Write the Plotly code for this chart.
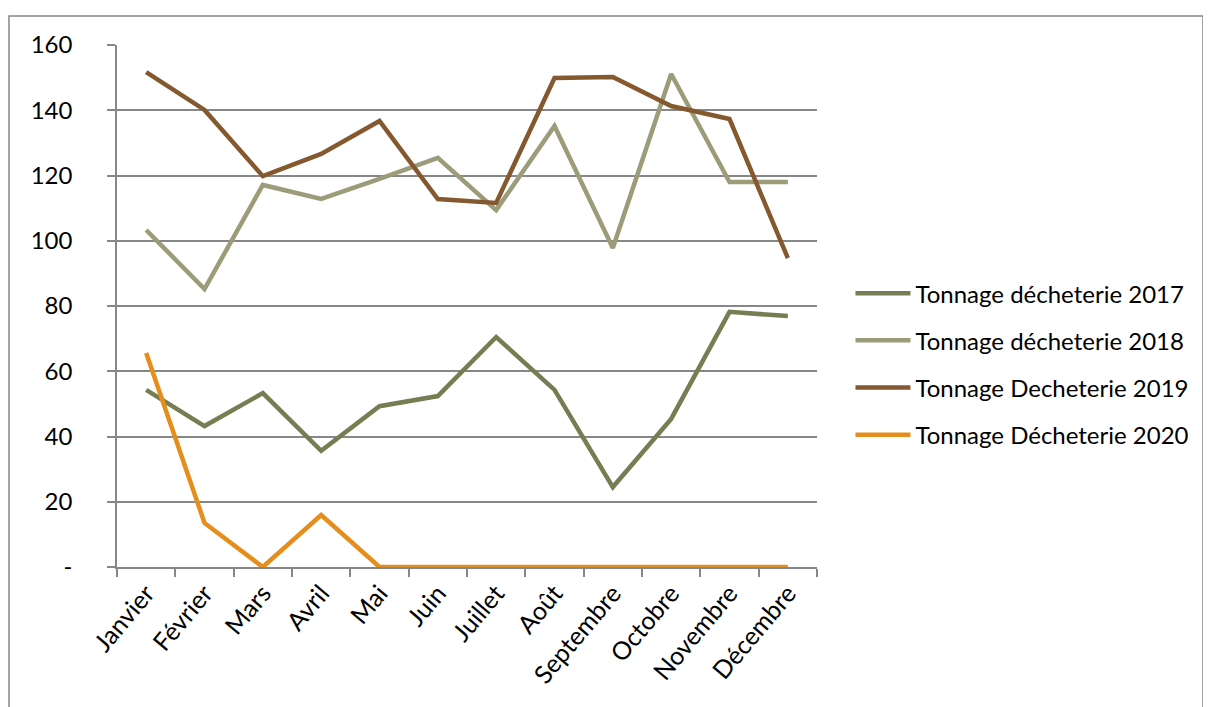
import plotly.graph_objects as go

months = ["Janvier", "Février", "Mars", "Avril", "Mai", "Juin", "Juillet",
          "Août", "Septembre", "Octobre", "Novembre", "Décembre"]
t2017 = [54.3, 43.2, 53.3, 35.6, 49.3, 52.4, 70.5, 54.3, 24.5, 45.4, 78.2, 76.9]
t2018 = [103.3, 85.2, 117.1, 112.8, 119.0, 125.4, 109.4, 135.2, 97.8, 151.1, 118.0, 118.0]
t2019 = [151.7, 140.1, 119.8, 126.6, 136.7, 112.8, 111.6, 149.9, 150.2, 141.3, 137.3, 94.7]
t2020 = [65.6, 13.5, 0, 15.9, 0, 0, 0, 0, 0, 0, 0, 0]

series_names = ["Tonnage décheterie 2017", "Tonnage décheterie 2018",
                "Tonnage Decheterie 2019", "Tonnage Décheterie 2020"]
series_vals = [t2017, t2018, t2019, t2020]
colors = ["#787C52", "#9C9C7A", "#85592F", "#E58E1C"]

ytick_vals = [0, 20, 40, 60, 80, 100, 120, 140, 160]
ytick_text = ["-", "20", "40", "60", "80", "100", "120", "140", "160"]

FONT = "Lato"

fig = go.Figure()
for i, (name, vals, col) in enumerate(zip(series_names, series_vals, colors)):
    fig.add_trace(go.Scatter(x=months, y=vals, name=name, mode="lines",
                             line=dict(color=col, width=4.5), legendgroup=f"g{i}"))

fig.update_layout(
    width=1211, height=707,
    margin=dict(l=109, r=402, t=37, b=148),
    paper_bgcolor="white", plot_bgcolor="white",
    font=dict(family=FONT, size=24, color="black"),
    showlegend=True,
    legend=dict(x=1.0478, y=0.567, xanchor="left", yanchor="top",
                traceorder="grouped", tracegroupgap=13,
                font=dict(family=FONT, size=24, color="black"),
                itemwidth=55, bgcolor="rgba(0,0,0,0)"),
    xaxis=dict(type="category", range=[-0.5, 11.5], showgrid=False,
               showline=True, linecolor="#878787", linewidth=1.5,
               ticks="outside", tickson="boundaries", ticklen=8,
               tickcolor="#878787", tickwidth=1.5, tickangle=-50,
               tickfont=dict(family=FONT, size=25), zeroline=False),
    yaxis=dict(range=[0, 160], tickvals=ytick_vals, ticktext=ytick_text,
               showgrid=True, gridcolor="#878787", gridwidth=1.5,
               showline=True, linecolor="#878787", linewidth=1.5,
               ticks="outside", ticklen=8, tickcolor="#878787", tickwidth=1.5,
               ticklabelstandoff=30, zeroline=False,
               tickfont=dict(family=FONT, size=24)),
    shapes=[dict(type="rect", xref="paper", yref="paper",
                 x0=-0.1543, x1=1.5514, y0=-0.4, y1=1.0556,
                 line=dict(color="#878787", width=1.5), layer="below")],
)

fig.write_html("out.html")
